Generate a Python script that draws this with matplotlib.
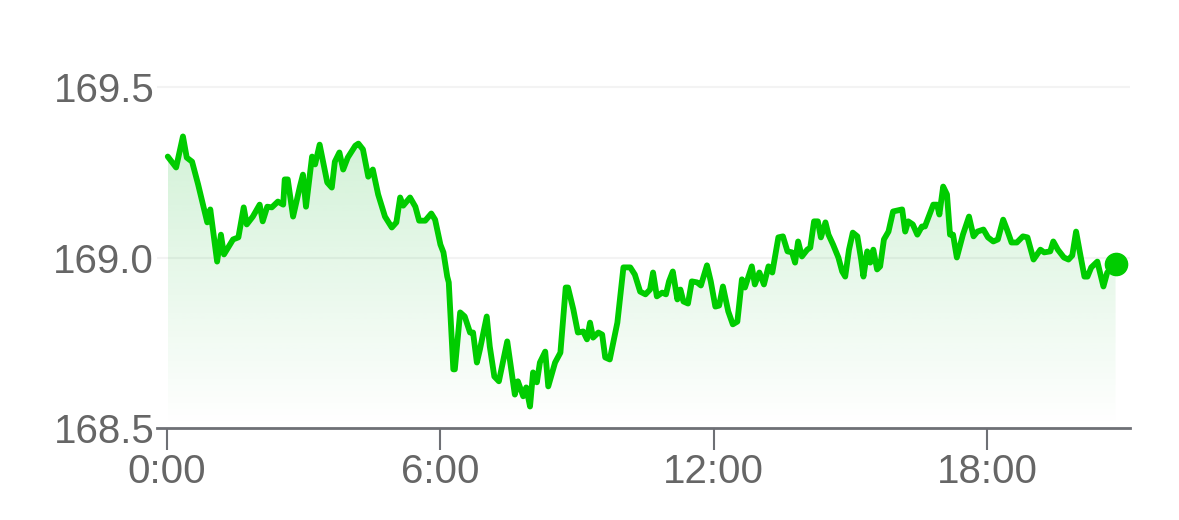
import numpy as np
import matplotlib
matplotlib.use("Agg")
import matplotlib.pyplot as plt
from matplotlib.patches import Polygon

# minutes since 0:00
minutes = [1, 12, 21, 26, 33, 41, 53, 57, 66, 71, 75, 87, 94, 101, 105, 113, 122, 126, 132, 138,
           146, 153, 155, 159, 166, 175, 179, 183, 191, 195, 201, 211, 217, 221, 227, 232, 238, 248, 252, 258,
           265, 271, 278, 287, 296, 302, 307, 311, 320, 327, 332, 340, 348, 353, 360, 364, 369, 371, 377, 379,
           386, 392, 399, 403, 408, 412, 421, 425, 431, 437, 448, 458, 462, 469, 473, 478, 482, 487, 491, 498,
           502, 511, 518, 525, 528, 535, 541, 548, 553, 557, 561, 568, 573, 577, 583, 593, 601, 610, 616, 623,
           630, 636, 640, 645, 652, 657, 661, 666, 672, 676, 680, 686, 691, 698, 703, 711, 716, 722, 727, 732,
           739, 745, 751, 757, 761, 770, 774, 780, 786, 792, 797, 805, 811, 817, 823, 827, 831, 836, 843, 847,
           852, 857, 861, 867, 871, 877, 884, 889, 893, 898, 903, 909, 914, 917, 922, 926, 930, 935, 939, 944,
           950, 956, 968, 972, 976, 982, 988, 994, 998, 1009, 1014, 1017, 1022, 1027, 1031, 1035, 1040, 1048, 1056, 1062,
           1067, 1075, 1081, 1088, 1094, 1101, 1106, 1112, 1119, 1127, 1133, 1141, 1150, 1155, 1163, 1167, 1173, 1181, 1187, 1192,
           1197, 1202, 1208, 1212, 1217, 1225, 1233, 1238, 1245, 1249]

prices = [169.296, 169.264, 169.355, 169.293, 169.281, 169.214, 169.103, 169.141, 168.988, 169.067,
          169.009, 169.053, 169.059, 169.147, 169.097, 169.120, 169.155, 169.106, 169.149, 169.147,
          169.164, 169.155, 169.229, 169.229, 169.120, 169.208, 169.243, 169.149, 169.296, 169.273,
          169.331, 169.220, 169.205, 169.281, 169.308, 169.258, 169.293, 169.328, 169.334, 169.317,
          169.237, 169.258, 169.185, 169.120, 169.088, 169.103, 169.176, 169.152, 169.176, 169.149,
          169.108, 169.108, 169.129, 169.111, 169.038, 169.015, 168.944, 168.927, 168.672, 168.672,
          168.839, 168.827, 168.780, 168.780, 168.692, 168.730, 168.827, 168.739, 168.651, 168.637,
          168.754, 168.598, 168.637, 168.593, 168.619, 168.563, 168.663, 168.634, 168.692, 168.724,
          168.622, 168.692, 168.721, 168.912, 168.912, 168.848, 168.780, 168.783, 168.760, 168.809,
          168.765, 168.780, 168.774, 168.707, 168.701, 168.809, 168.971, 168.971, 168.950, 168.900,
          168.892, 168.906, 168.956, 168.886, 168.897, 168.892, 168.930, 168.959, 168.877, 168.906,
          168.871, 168.865, 168.930, 168.927, 168.918, 168.977, 168.930, 168.856, 168.859, 168.915,
          168.842, 168.804, 168.812, 168.936, 168.912, 168.974, 168.921, 168.956, 168.921, 168.974,
          168.956, 169.059, 169.062, 169.018, 169.015, 168.985, 169.047, 169.003, 169.023, 169.029,
          169.106, 169.106, 169.059, 169.103, 169.067, 169.038, 169.000, 168.959, 168.944, 169.023,
          169.073, 169.062, 168.994, 168.944, 169.018, 168.985, 169.023, 168.965, 168.974, 169.053,
          169.076, 169.135, 169.141, 169.076, 169.106, 169.097, 169.067, 169.091, 169.091, 169.155,
          169.155, 169.126, 169.208, 169.185, 169.067, 169.067, 169.000, 169.067, 169.120, 169.062,
          169.076, 169.082, 169.059, 169.047, 169.053, 169.111, 169.082, 169.044, 169.044, 169.062,
          169.059, 168.994, 169.023, 169.015, 169.018, 169.047, 169.023, 169.000, 168.994, 169.006,
          169.076, 169.015, 168.944, 168.944, 168.971, 168.988, 168.915, 168.956, 168.971, 168.982]

y_ticks = [168.5, 169.0, 169.5]
y_tick_labels = ["168.5", "169.0", "169.5"]
x_ticks = [0, 360, 720, 1080]
x_tick_labels = ["0:00", "6:00", "12:00", "18:00"]

plt.rcParams['font.family'] = ['Liberation Sans', 'DejaVu Sans']

W, H = 1179, 520
fig = plt.figure(figsize=(W / 100, H / 100), dpi=100)
left_px, right_px = 157, 1130
bottom_px, top_px = 428, 60
ax = fig.add_axes([left_px / W, 1 - bottom_px / H, (right_px - left_px) / W, (bottom_px - top_px) / H])

ymin = 168.5
ymax = 169.5 + (87 - top_px) / 341.0
xmin = -10 * 60 / 45.56
xmax = 1268
ax.set_xlim(xmin, xmax)
ax.set_ylim(ymin, ymax)

x = np.array(minutes, dtype=float)
y = np.array(prices)
green = '#00cc00'

# gradient fill
top = y.max()
grad = np.linspace(0.19, 0.0, 256)
img = np.zeros((256, 1, 4))
img[..., 0] = 20 / 255
img[..., 1] = 185 / 255
img[..., 2] = 45 / 255
img[:, 0, 3] = grad
im = ax.imshow(img, extent=[x[0], x[-1], ymin, top], aspect='auto', origin='upper', zorder=1,
               interpolation='bilinear')
verts = [(x[0], ymin)] + list(zip(x, y)) + [(x[-1], ymin)]
poly = Polygon(verts, closed=True, facecolor='none', edgecolor='none')
ax.add_patch(poly)
im.set_clip_path(poly)

ax.plot(x, y, color=green, lw=4.2, solid_joinstyle='round', solid_capstyle='round', zorder=3)
ax.plot([x[-1]], [y[-1]], 'o', color=green, markersize=16, zorder=4)

for s in ['top', 'right', 'left']:
    ax.spines[s].set_visible(False)
ax.spines['bottom'].set_color('#6e7075')
ax.spines['bottom'].set_linewidth(2.0)

ax.set_yticks(y_ticks)
ax.set_yticklabels(y_tick_labels)
ax.set_xticks(x_ticks)
ax.set_xticklabels(x_tick_labels)
ax.tick_params(axis='y', length=0, pad=2, labelsize=29, labelcolor='#666666')
ax.tick_params(axis='x', length=16, width=1.5, color='#6e7075', pad=2, labelsize=29, labelcolor='#666666')

for v in [169.0, 169.5]:
    ax.axhline(v, color='#f3f3f3', lw=1.5, zorder=0)

fig.savefig('out.png', dpi=100, facecolor='white')
